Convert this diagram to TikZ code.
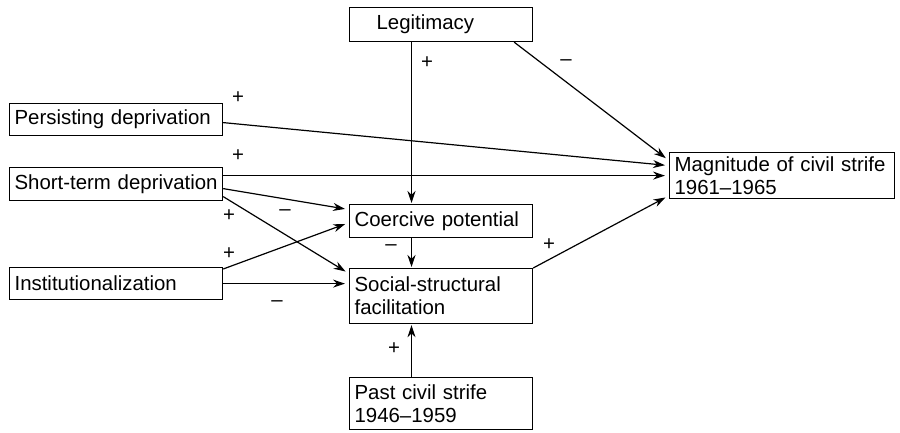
\documentclass[tikz,border=0pt]{standalone}
\usepackage{fontspec}
\setmainfont{Liberation Sans}
\usetikzlibrary{arrows.meta}

\begin{document}
\begin{tikzpicture}[>={Stealth[length=6pt,width=4pt]},x=.5pt,y=-.5pt,
    font=\fontsize{10.2}{11.5}\selectfont,
    box/.style={draw,line width=.6pt,anchor=north west,align=left,inner xsep=2.5pt,inner ysep=0pt},
    link/.style={->,line width=.6pt,shorten >=2pt}]
    \useasboundingbox (0,0) rectangle (900,433);
    % boxes
    \node[box,text width=86.5pt,minimum height=17pt] (leg) at (349,7) {\hspace*{11pt}Legitimacy};
    \node[box,text width=101.5pt,minimum height=16pt] (pers) at (9,103) {Persisting deprivation};
    \node[box,text width=101.5pt,minimum height=16.5pt] (short) at (9,167) {Short-term deprivation};
    \node[box,text width=101.5pt,minimum height=16pt] (inst) at (9,267) {Institutionalization};
    \node[box,text width=86.5pt,minimum height=16.5pt] (coer) at (349,204) {Coercive potential};
    \node[box,text width=86.5pt,minimum height=27.5pt] (soc) at (349,268) {Social-structural\\facilitation};
    \node[box,text width=86.5pt,minimum height=26pt] (past) at (349,377) {Past civil strife\\1946--1959};
    \node[box,text width=107.5pt,minimum height=23pt] (mag) at (669,152) {Magnitude of civil strife\\1961--1965};
    % connectors
    \coordinate (vx) at (411.5,0);
    \draw[link,shorten >=.5pt] (leg.south -| vx) -- (coer.north -| vx);
    \draw[link,shorten >=.5pt] (coer.south -| vx) -- (soc.north -| vx);
    \draw[link,shorten >=.5pt] (past.north -| vx) -- (soc.south -| vx);
    \draw[link] ([xshift=-9.5pt]leg.south east) -- ([yshift=7.5pt]mag.west);
    \draw[link] ([yshift=-1.5pt]pers.east) -- ([yshift=5pt]mag.west);
    \draw[link] ([yshift=4.25pt]short.east) -- ([yshift=4.25pt]short.east -| mag.west);
    \draw[link] ([yshift=-2.25pt]short.east) -- ([yshift=5.75pt]coer.west);
    \draw[link] ([yshift=-6.25pt]short.east) -- ([yshift=11.25pt]soc.west);
    \draw[link] ([yshift=-1pt]inst.north east) -- ([yshift=-.75pt]coer.west);
    \draw[link] (inst.east) -- (inst.east -| soc.west);
    \draw[link] (soc.north east) -- ([yshift=-10pt]mag.west);
    % signs
    \foreach \p/\s [count=\k] in {{238,98}/+,{238,156}/+,{229,216}/+,{285,213}/--,
        {229,254}/+,{277,304}/--,{427,63}/+,{566,63}/--,{391,248}/--,{549,245}/+,{394,349}/+}
        \node[inner sep=0pt] (sign\k) at (\p) {\s};
\end{tikzpicture}
\end{document}
